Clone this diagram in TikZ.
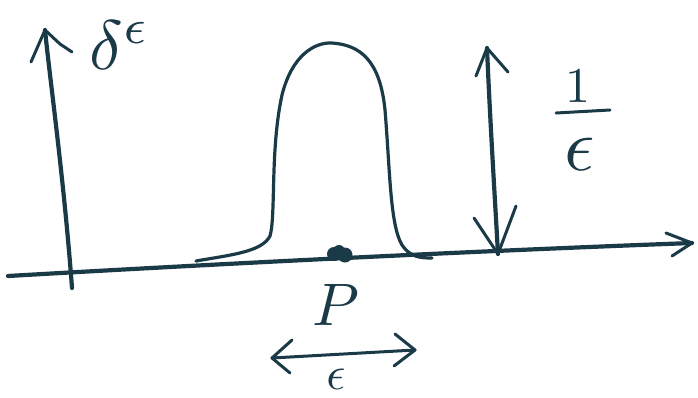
\documentclass[tikz,border=0pt]{standalone}
\usetikzlibrary{positioning}
\definecolor{ink}{HTML}{1B3A48}
\begin{document}
\begin{tikzpicture}[
  x=1pt,
  y=-1pt,
  line join=round,
  line cap=round,
  axis/.style={draw=ink,line width=4.2pt},
  curve/.style={draw=ink,line width=3.2pt},
  pen/.style={draw=ink,line width=3pt},
  mathlab/.style={text=ink,inner sep=0pt,scale=5}
]
  \useasboundingbox (0,0) rectangle (698,397);

  % Axes.
  \coordinate (xs) at (8,276);
  \coordinate (xe) at (692,243);
  \coordinate (ys) at (72,288);
  \coordinate (ye) at (45,30);
  \draw[axis] (xs) .. controls (250,262) and (500,250) .. (xe);
  \draw[axis] (ys) .. controls (64,180) and (50,80) .. (ye);
  \draw[pen] (666,233) -- (xe) -- (672,256);
  \draw[pen] (31,62) -- (ye) -- (60,44) -- (72,52);

  % Bump around P.
  \draw[curve] (196,261) .. controls (230,255) and (262,252) .. (270,236)
    .. controls (276,215) and (270,150) .. (282,95)
    .. controls (292,55) and (315,42) .. (332,43)
    .. controls (360,45) and (380,60) .. (385,110)
    .. controls (390,170) and (390,225) .. (402,245)
    .. controls (410,257) and (420,258) .. (432,258);

  % The point P.
  \fill[ink] (334,254) circle[radius=7pt];
  \fill[ink] (345,255) circle[radius=7.5pt];
  \fill[ink] (339,251) circle[radius=6pt];
  \coordinate (p) at (340,255);

  % Labels.
  \node[mathlab,scale=1.4] (delta) at (120,45) {$\delta^{\epsilon}$};
  \node[mathlab,scale=1.2] (plab) at (336,305) {$P$};
  \node[mathlab,scale=0.95] (eps) at (336,379) {$\epsilon$};
  \node[mathlab] (one) at (578,86) {$1$};
  \node[mathlab,scale=1.5] (den) at (580,154) {$\epsilon$};
  \coordinate (bl) at (556,113);
  \coordinate (br) at (610,110);
  \draw[pen] (bl) -- (br);

  % Width arrow.
  \coordinate (wl) at (272,358);
  \coordinate (wr) at (415,350);
  \draw[pen] (wl) -- (wr);
  \draw[pen] (292,340) -- (wl) -- (290,373);
  \draw[pen] (395,334) -- (wr) -- (394,366);

  % Height arrow.
  \coordinate (ht) at (487,48);
  \coordinate (hb) at (498,254);
  \draw[axis] (ht) .. controls (490,120) and (495,200) .. (hb);
  \draw[pen] (476,76) -- (ht) -- (508,72);
  \draw[pen] (474,218) -- (hb) -- (516,206);
\end{tikzpicture}
\end{document}
